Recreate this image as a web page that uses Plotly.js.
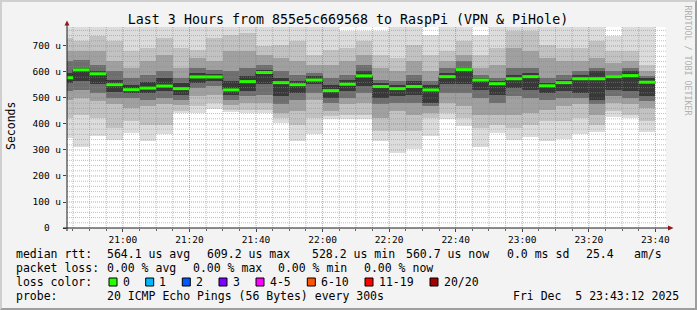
<!DOCTYPE html>
<html><head><meta charset="utf-8">
<script src="https://cdn.plot.ly/plotly-3.0.1.min.js"></script>
<style>
html,body{margin:0;padding:0;background:#F3F3F3;}
#wrap{position:relative;width:697px;height:310px;overflow:hidden;}
#chart{width:697px;height:310px;}
#frame{position:absolute;left:0;top:0;width:697px;height:310px;box-sizing:border-box;border-style:solid;border-width:2px;border-color:#CFCFCF #9E9E9E #9E9E9E #CFCFCF;pointer-events:none;}
</style></head><body>
<div id="wrap"><div id="chart"></div><div id="frame"></div></div>
<script>
// ---- data (end time of each 5-minute step, values in microseconds) ----
const times = ['20:45','20:50','20:55','21:00','21:05','21:10','21:15','21:20','21:25','21:30','21:35','21:40',
               '21:45','21:50','21:55','22:00','22:05','22:10','22:15','22:20','22:25','22:30','22:35','22:40',
               '22:45','22:50','22:55','23:00','23:05','23:10','23:15','23:20','23:25','23:30','23:35','23:40'];
const median  = [578,608,593,551,532,538,546,536,581,581,531,563,598,559,551,569,528.2,553,585,544,536,544,531,582,609.2,569,555,574,582,547,559,574,574,582,586,560.7];
const pingMax = [785,785,785,785,780,785,785,785,785,790,785,785,785,785,785,785,780,757,757,757,780,785,744,785,785,744,780,785,785,785,785,780,785,740,785,785];
const pingHi1 = [731,718,737,718,680,692,731,692,686,731,744,750,699,705,718,667,686,692,718,667,654,705,667,680,718,667,692,757,757,705,692,692,718,680,680,628];
const pingHi2 = [680,680,680,641,616,641,667,616,654,641,680,680,667,654,641,628,628,641,667,616,603,641,603,641,667,616,628,692,680,654,641,641,654,635,641,603];
const pingHi3 = [641,648,628,603,577,590,603,577,616,609,603,616,628,603,590,596,577,590,628,571,564,590,564,616,641,590,577,616,616,577,590,603,616,603,616,584];
const pingHi4 = [596,616,603,571,551,562,577,558,596,593,564,584,609,577,567,584,551,571,603,558,551,564,551,596,616,577,564,590,596,558,571,588,603,588,603,577];
const pingLo4 = [558,564,552,523,520,520,528,511,558,564,511,526,552,507,520,552,500,526,545,500,507,513,481,552,552,532,513,539,532,520,526,520,494,532,526,507];
const pingLo3 = [526,532,520,500,500,494,500,494,539,545,494,507,513,475,494,520,481,500,520,475,481,481,468,520,520,500,481,507,500,494,500,500,475,507,500,487];
const pingLo2 = [494,500,487,475,462,468,475,472,507,513,472,481,481,443,449,494,449,475,481,423,449,436,443,481,468,436,436,436,443,455,468,475,436,481,475,462];
const pingLo1 = [423,436,423,385,410,398,398,449,468,481,455,455,455,423,398,423,432,436,436,372,372,372,423,443,423,385,398,385,398,410,410,423,398,449,436,410];
const pingMin = [345,313,354,340,367,336,361,442,444,458,447,442,441,405,333,362,418,419,419,336,290,304,354,420,392,313,365,338,350,336,341,360,370,428,423,368];
const xTickLabels = ['21:00','21:20','21:40','22:00','22:20','22:40','23:00','23:20','23:40'];
const yTickVals = [0,100,200,300,400,500,600,700];
const yTickText = ['0  ','100 u','200 u','300 u','400 u','500 u','600 u','700 u'];
const smokeColors = ['#DCDCDC','#C2C2C2','#A0A0A0','#6E6E6E','#383838'];
const lossColors = [['0','#26ff00'],['1','#00b8ff'],['2','#0059ff'],['3','#7e00ff'],['4-5','#ff00ff'],['6-10','#ff5500'],['11-19','#ff0000'],['20/20','#a10000']];

// ---- geometry ----
const W0 = 697, H0 = 310;
const L = 67, R = 666, T = 27, B = 228;
const PW = R - L, PH = B - T;
const px = x => (x - L) / PW;
const py = y => (B - y) / PH;
const STEP = 300000;
const toMs = hm => { const [h, m] = hm.split(':').map(Number); return Date.UTC(2025, 11, 5, h, m, 0); };
const tEnd = times.map(toMs);
const tStart = tEnd.map(t => t - STEP);
const xStart = Date.UTC(2025, 11, 5, 20, 43, 12);
const xEnd = Date.UTC(2025, 11, 5, 23, 43, 12);

// ---- smoke bands ----
const bands = [[pingMin, pingMax], [pingLo1, pingHi1], [pingLo2, pingHi2], [pingLo3, pingHi3], [pingLo4, pingHi4]];
const traces = bands.map((b, k) => ({
  type: 'bar',
  x: tEnd.map(t => t - STEP / 2),
  base: b[0],
  y: b[1].map((h, i) => h - b[0][i]),
  width: tEnd.map(() => STEP),
  marker: {color: smokeColors[k], line: {width: 0}},
  hoverinfo: 'skip', showlegend: false
}));
// black step line of the median
traces.push({
  type: 'scatter', mode: 'lines',
  x: tStart.concat([tEnd[tEnd.length - 1]]),
  y: median.concat([median[median.length - 1]]),
  line: {shape: 'hv', color: '#1a1a1a', width: 1},
  hoverinfo: 'skip', showlegend: false
});
// green median segments (0 % loss)
const gx = [], gy = [];
median.forEach((m, i) => { gx.push(tStart[i], tEnd[i], null); gy.push(m, m, null); });
traces.push({
  type: 'scatter', mode: 'lines', x: gx, y: gy,
  line: {color: '#26ff00', width: 3},
  hoverinfo: 'skip', showlegend: false
});

// ---- grid (drawn above the smoke, like rrdtool) ----
const shapes = [];
const minorGrid = 'rgba(140,140,140,0.55)';
const majorGrid = 'rgba(235,70,70,0.6)';
const xTickVals = xTickLabels.map(toMs);
tEnd.forEach(t => {
  if (xTickVals.indexOf(t) < 0)
    shapes.push({type: 'line', layer: 'above', xref: 'x', yref: 'paper', x0: t, x1: t, y0: 0, y1: 1,
                 line: {color: minorGrid, width: 1, dash: '1px,1px'}});
});
xTickVals.forEach(t => shapes.push({type: 'line', layer: 'above', xref: 'x', yref: 'paper', x0: t, x1: t, y0: 0, y1: 1,
                 line: {color: majorGrid, width: 1, dash: '1px,1px'}}));
for (let v = 20; v < 773; v += 20) {
  const major = v % 100 === 0;
  shapes.push({type: 'line', layer: 'above', xref: 'paper', yref: 'y', x0: 0, x1: 1, y0: v, y1: v,
               line: {color: major ? majorGrid : minorGrid, width: 1, dash: '1px,1px'}});
}
// axes with arrows
shapes.push({type: 'line', layer: 'above', xref: 'paper', yref: 'paper', x0: px(63), x1: px(670), y0: py(228), y1: py(228), line: {color: '#1a1a1a', width: 1}});
shapes.push({type: 'line', layer: 'above', xref: 'paper', yref: 'paper', x0: px(67), x1: px(67), y0: py(231), y1: py(24), line: {color: '#1a1a1a', width: 1}});
shapes.push({type: 'path', layer: 'above', xref: 'paper', yref: 'paper',
  path: `M${px(64.5)},${py(25.5)} L${px(69.5)},${py(25.5)} L${px(67)},${py(20.5)} Z`, fillcolor: '#8b1a1a', line: {width: 0}});
shapes.push({type: 'path', layer: 'above', xref: 'paper', yref: 'paper',
  path: `M${px(668)},${py(225.5)} L${px(668)},${py(230.5)} L${px(673.5)},${py(228)} Z`, fillcolor: '#8b1a1a', line: {width: 0}});

// ---- legend text ----
const mono = 'DejaVu Sans Mono';
const nb = s => s.replace(/ /g, '\u00A0');
const annotations = [];
function txt(s, x, y, size, opts) {
  annotations.push(Object.assign({
    text: nb(s), xref: 'paper', yref: 'paper', x: px(x - 2), y: py(y), xanchor: 'left', yanchor: 'middle',
    showarrow: false, font: {family: mono, size: size || 11.5, color: '#000'}
  }, opts || {}));
}
const l1 = 254, l2 = 268, l3 = 282, l4 = 296;
txt('median rtt:', 16, l1);
txt('564.1 us avg', 106.6, l1);
txt('609.2 us max', 206.6, l1);
txt('528.2 us min', 311.6, l1);
txt('560.7 us now', 406, l1);
txt('0.0 ms sd', 507, l1);
txt('25.4', 586, l1);
txt('am/s', 634.3, l1);
txt('packet loss:', 16, l2);
txt('0.00 % avg', 106.6, l2);
txt('0.00 % max', 192.6, l2);
txt('0.00 % min', 278.3, l2);
txt('0.00 % now', 364.3, l2);
txt('loss color:', 16, l3);
const boxX = [109, 145.7, 182.3, 219, 256, 307.3, 365, 430];
lossColors.forEach((lc, i) => {
  shapes.push({type: 'rect', layer: 'above', xref: 'paper', yref: 'paper',
    x0: px(boxX[i]), x1: px(boxX[i] + 8), y0: py(278), y1: py(286), fillcolor: lc[1], line: {color: '#000', width: 1}});
  txt(lc[0], boxX[i] + 13.6, l3);
});
txt('probe:', 16, l4);
txt('20 ICMP Echo Pings (56 Bytes) every 300s', 106.6, l4);
txt('Fri Dec  5 23:43:12 2025', 512.5, l4);
// y axis title
annotations.push({text: 'Seconds', xref: 'paper', yref: 'paper', x: px(11), y: py(126), xanchor: 'center', yanchor: 'middle',
  textangle: -90, showarrow: false, font: {family: mono, size: 11.5, color: '#000'}});
// watermark
annotations.push({text: nb('RRDTOOL / TOBI OETIKER'), xref: 'paper', yref: 'paper', x: px(687.5), y: py(60), xanchor: 'center', yanchor: 'middle',
  textangle: 90, showarrow: false, font: {family: mono, size: 8.3, color: '#b0b0b0'}});

const layout = {
  width: W0, height: H0,
  margin: {l: L, r: W0 - R, t: T, b: H0 - B, pad: 0},
  paper_bgcolor: '#F3F3F3', plot_bgcolor: '#FFFFFF',
  barmode: 'overlay', bargap: 0,
  showlegend: false,
  title: {text: 'Last 3 Hours from 855e5c669568 to RaspPi (VPN & PiHole)', x: 348 / W0, xanchor: 'center',
          y: 1 - 19 / H0, yanchor: 'middle', font: {family: mono, size: 13.3, color: '#000'}},
  xaxis: {type: 'date', range: [xStart, xEnd], tickvals: xTickVals, ticktext: xTickLabels,
          tickfont: {family: mono, size: 9.5, color: '#000'}, ticks: 'outside', ticklen: 3, tickcolor: '#444',
          minor: {tickvals: tEnd, ticks: 'outside', ticklen: 2, tickcolor: '#666', showgrid: false},
          showgrid: false, zeroline: false, showline: false, fixedrange: true},
  yaxis: {range: [0, 773], tickvals: yTickVals, ticktext: yTickText.map(nb),
          tickfont: {family: mono, size: 9.5, color: '#000'}, ticks: 'outside', ticklen: 3, tickcolor: '#444',
          showgrid: false, zeroline: false, showline: false, fixedrange: true},
  shapes: shapes, annotations: annotations
};
Plotly.newPlot('chart', traces, layout, {staticPlot: true, displayModeBar: false});
</script></body></html>
